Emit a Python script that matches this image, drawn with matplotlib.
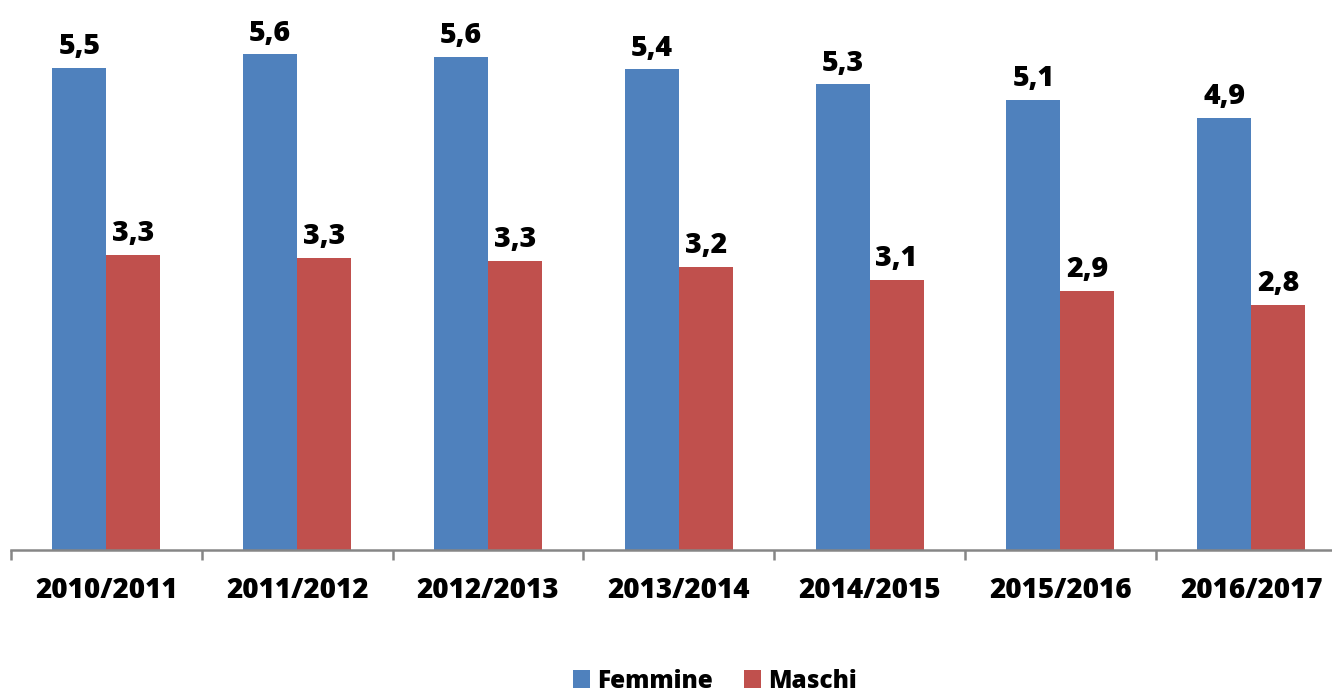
import matplotlib

matplotlib.use("Agg")
import matplotlib.pyplot as plt
import numpy as np

years = ["2010/2011", "2011/2012", "2012/2013", "2013/2014", "2014/2015", "2015/2016", "2016/2017"]
femmine = [5.46, 5.61, 5.58, 5.44, 5.27, 5.09, 4.89]
maschi = [3.34, 3.31, 3.27, 3.20, 3.06, 2.93, 2.77]

BLUE = "#4F81BD"
RED = "#C0504D"
GRID = "#868686"

plt.rcParams["font.family"] = ["Open Sans", "DejaVu Sans"]

fig = plt.figure(figsize=(13.32, 6.93), dpi=100)
ax = fig.add_axes([11 / 1332, 143 / 693, 7 * 190.8 / 1332, 530 / 693])

x = np.arange(len(years))
w = 0.283
b1 = ax.bar(x - w / 2, femmine, w, color=BLUE, label="Femmine")
b2 = ax.bar(x + w / 2, maschi, w, color=RED, label="Maschi")

for bars, vals in ((b1, femmine), (b2, maschi)):
    for rect, v in zip(bars, vals):
        ax.annotate(f"{v:.1f}".replace(".", ","),
                    (rect.get_x() + rect.get_width() / 2, rect.get_height()),
                    xytext=(0, 5), textcoords="offset points",
                    ha="center", va="bottom", fontsize=20.5, fontweight="heavy")

ax.set_xlim(-0.5, len(years) - 0.5)
ax.set_ylim(0, 6)
ax.set_yticks([])
for side in ("left", "right", "top"):
    ax.spines[side].set_visible(False)
ax.spines["bottom"].set_color(GRID)
ax.spines["bottom"].set_linewidth(1.8)

ax.set_xticks(x)
ax.set_xticklabels(years, fontsize=20, fontweight="heavy")
ax.tick_params(axis="x", which="major", length=0, pad=19)
ax.set_xticks(np.arange(len(years) + 1) - 0.5, minor=True)
ax.tick_params(axis="x", which="minor", length=7, width=1.8, color=GRID)

fig.legend(handles=[b1, b2], loc="center", bbox_to_anchor=(715 / 1332, 1 - 681 / 693),
           ncol=2, frameon=False, prop={"size": 17.5, "weight": "heavy"},
           handlelength=0.7, handleheight=0.7, handletextpad=0.3, columnspacing=1.3)

fig.savefig("out.png", dpi=100)
